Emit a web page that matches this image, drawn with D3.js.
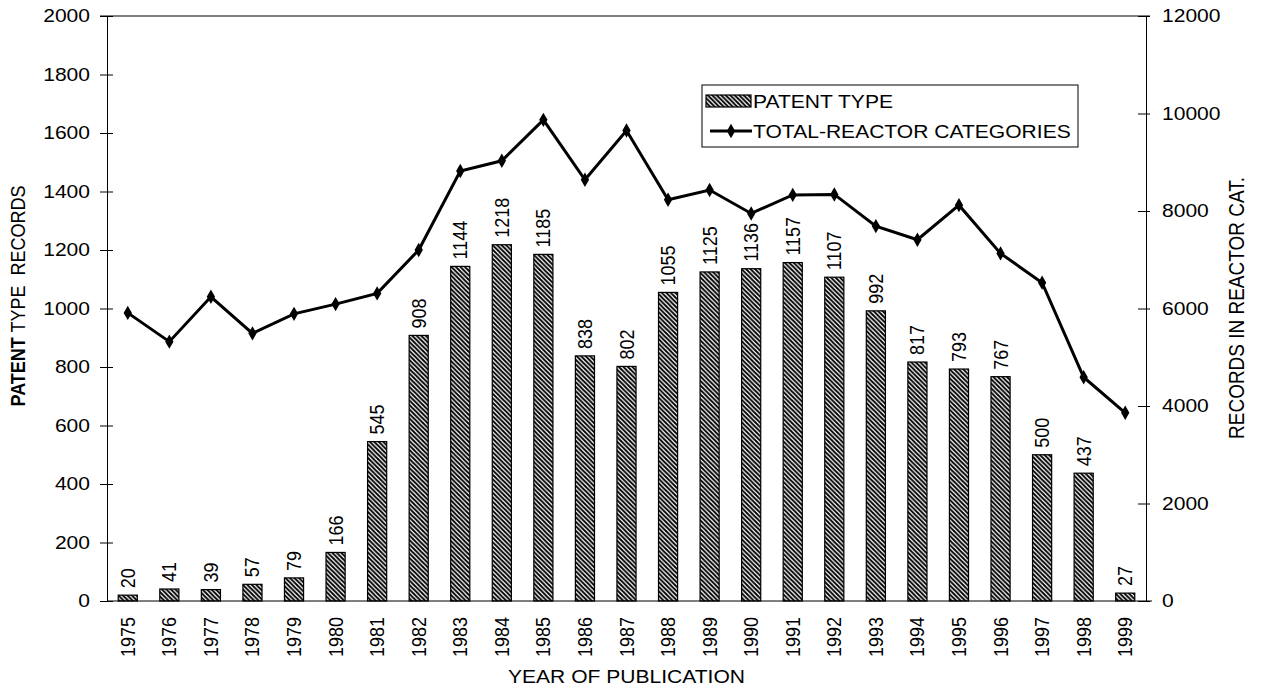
<!DOCTYPE html>
<html>
<head>
<meta charset="utf-8">
<script src="https://cdn.jsdelivr.net/npm/d3@7"></script>
<style>
  html, body { margin: 0; padding: 0; background: #fff; }
  svg { display: block; font-family: "Liberation Sans", Arial, sans-serif; }
</style>
</head>
<body>
<svg id="chart" width="1262" height="688"></svg>
<script>
// Publication years
const years = ["1975","1976","1977","1978","1979","1980","1981","1982","1983","1984","1985","1986","1987",
  "1988","1989","1990","1991","1992","1993","1994","1995","1996","1997","1998","1999"];
// Patent type records per year (bars, left axis)
const patentRecords = [20,41,39,57,79,166,545,908,1144,1218,1185,838,802,
  1055,1125,1136,1157,1107,992,817,793,767,500,437,27];
// Total records across reactor categories (line, right axis)
const reactorTotals = [5910,5320,6240,5490,5890,6090,6310,7200,8820,9030,9870,8640,9650,
  8230,8430,7950,8330,8340,7690,7410,8120,7130,6530,4590,3860];
const leftTicks = [0,200,400,600,800,1000,1200,1400,1600,1800,2000];
const rightTicks = [0,2000,4000,6000,8000,10000,12000];

const svg = d3.select("#chart");
const m = { left: 107, right: 1146, top: 16, bottom: 601 };
const fontSize = 18;
const sx = 1.17; // text is drawn a little wide

const x = d3.scaleBand().domain(years).range([m.left, m.right]).paddingInner(0.54).paddingOuter(0.27);
const yL = d3.scaleLinear().domain([0, 2000]).range([m.bottom, m.top]);
const yR = d3.scaleLinear().domain([0, 12000]).range([m.bottom, m.top]);

// diagonal hatch for the bars
const defs = svg.append("defs");
const pat = defs.append("pattern").attr("id", "hatch")
  .attr("patternUnits", "userSpaceOnUse").attr("width", 4.5).attr("height", 4.5);
pat.append("rect").attr("width", 4.5).attr("height", 4.5).attr("fill", "#fff");
pat.append("path")
  .attr("d", "M-1,-1 L5.5,5.5 M-1,3.5 L1,5.5 M3.5,-1 L5.5,1")
  .attr("stroke", "#000").attr("stroke-width", 1.9);

// wide text helper: scale horizontally around the anchor point
const wide = (px, py, rot) => `translate(${px},${py}) scale(${sx},1)` + (rot ? ` rotate(${rot})` : "");

// top border
svg.append("line").attr("x1", 100).attr("x2", 1150).attr("y1", m.top).attr("y2", m.top)
  .attr("stroke", "#000").attr("stroke-width", 1);

// left axis
const gL = svg.append("g").attr("transform", `translate(${m.left},0)`)
  .call(d3.axisLeft(yL).tickValues(leftTicks).tickFormat(d3.format("d")).tickSizeInner(7).tickSizeOuter(0).tickPadding(10));
gL.selectAll("line").clone().attr("x2", 6);
// right axis
const gR = svg.append("g").attr("transform", `translate(${m.right},0)`)
  .call(d3.axisRight(yR).tickValues(rightTicks).tickFormat(d3.format("d")).tickSizeInner(4).tickSizeOuter(0).tickPadding(12));
gR.selectAll("line").clone().attr("x2", -8);
[gL, gR].forEach(g => {
  g.select(".domain").attr("stroke", "#000");
  g.selectAll("line").attr("stroke", "#000");
  g.selectAll("text").attr("font-size", fontSize).attr("fill", "#000")
    .attr("font-family", "Liberation Sans, Arial, sans-serif")
    .each(function () {
      const t = d3.select(this);
      const tx = +t.attr("x");
      t.attr("transform", `translate(${tx},0) scale(${sx},1) translate(${-tx},0)`);
    });
});

// bars
svg.append("g").selectAll("rect").data(years).join("rect")
  .attr("x", (d) => x(d))
  .attr("width", x.bandwidth())
  .attr("y", (d, i) => yL(patentRecords[i]))
  .attr("height", (d, i) => yL(0) - yL(patentRecords[i]))
  .attr("fill", "url(#hatch)").attr("stroke", "#000").attr("stroke-width", 1.2);

// baseline
svg.append("line").attr("x1", m.left).attr("x2", m.right + 6).attr("y1", m.bottom).attr("y2", m.bottom)
  .attr("stroke", "#000").attr("stroke-width", 1.2);

const cx = (d) => x(d) + x.bandwidth() / 2;

// value labels above bars
svg.append("g").selectAll("text").data(years).join("text")
  .attr("transform", (d, i) => wide(cx(d) + 7, yL(patentRecords[i]) - 7, -90))
  .attr("font-size", fontSize).attr("text-anchor", "start")
  .text((d, i) => patentRecords[i]);

// year labels
svg.append("g").selectAll("text").data(years).join("text")
  .attr("transform", (d) => wide(cx(d) + 7, m.bottom + 16, -90))
  .attr("font-size", fontSize).attr("text-anchor", "end")
  .text((d) => d);

// reactor totals line
const line = d3.line().x((d, i) => cx(years[i])).y((d) => yR(d));
svg.append("path").datum(reactorTotals).attr("d", line)
  .attr("fill", "none").attr("stroke", "#000").attr("stroke-width", 3).attr("stroke-linejoin", "miter");
const diamond = d3.symbol().type(d3.symbolDiamond).size(60);
svg.append("g").selectAll("path").data(reactorTotals).join("path")
  .attr("transform", (d, i) => `translate(${cx(years[i])},${yR(d)})`)
  .attr("d", diamond).attr("fill", "#000");

// axis titles
svg.append("text").attr("transform", wide((m.left + m.right) / 2, 683))
  .attr("text-anchor", "middle").attr("font-size", fontSize).text("YEAR OF PUBLICATION");

const tl = svg.append("text").attr("transform", wide(25, 296, -90))
  .attr("text-anchor", "middle").attr("font-size", fontSize);
tl.append("tspan").attr("font-weight", "bold").text("PATENT");
tl.append("tspan").attr("xml:space", "preserve").text(" TYPE  RECORDS");

svg.append("text").attr("transform", wide(1244, 308, -90))
  .attr("text-anchor", "middle").attr("font-size", 19).text("RECORDS IN REACTOR CAT.");

// legend
const lg = svg.append("g").attr("transform", "translate(702,85)");
lg.append("rect").attr("width", 376).attr("height", 62).attr("fill", "#fff")
  .attr("stroke", "#000").attr("stroke-width", 1);
lg.append("rect").attr("x", 4).attr("y", 10).attr("width", 45).attr("height", 12)
  .attr("fill", "url(#hatch)").attr("stroke", "#000").attr("stroke-width", 1.2);
lg.append("text").attr("transform", wide(51, 23)).attr("font-size", fontSize).text("PATENT TYPE");
lg.append("line").attr("x1", 8).attr("x2", 50).attr("y1", 46).attr("y2", 46)
  .attr("stroke", "#000").attr("stroke-width", 3);
lg.append("path").attr("transform", "translate(29,46)").attr("d", diamond).attr("fill", "#000");
lg.append("text").attr("transform", wide(51, 53)).attr("font-size", fontSize).text("TOTAL-REACTOR CATEGORIES");
</script>
</body>
</html>
